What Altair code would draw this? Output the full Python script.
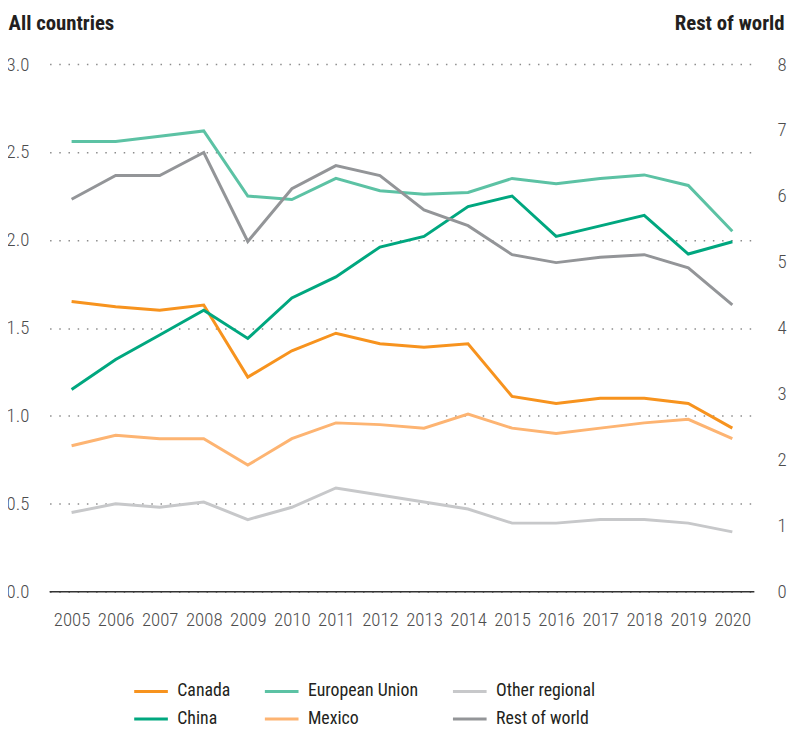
import altair as alt
import pandas as pd

years = list(range(2005, 2021))
canada = [1.65, 1.62, 1.60, 1.63, 1.22, 1.37, 1.47, 1.41, 1.39, 1.41, 1.11, 1.07, 1.10, 1.10, 1.07, 0.93]
china = [1.15, 1.32, 1.46, 1.60, 1.44, 1.67, 1.79, 1.96, 2.02, 2.19, 2.25, 2.02, 2.08, 2.14, 1.92, 1.99]
european_union = [2.56, 2.56, 2.59, 2.62, 2.25, 2.23, 2.35, 2.28, 2.26, 2.27, 2.35, 2.32, 2.35, 2.37, 2.31, 2.05]
mexico = [0.83, 0.89, 0.87, 0.87, 0.72, 0.87, 0.96, 0.95, 0.93, 1.01, 0.93, 0.90, 0.93, 0.96, 0.98, 0.87]
other_regional = [0.45, 0.50, 0.48, 0.51, 0.41, 0.48, 0.59, 0.55, 0.51, 0.47, 0.39, 0.39, 0.41, 0.41, 0.39, 0.34]
rest_of_world = [5.95, 6.31, 6.31, 6.66, 5.31, 6.11, 6.46, 6.31, 5.79, 5.55, 5.11, 4.99, 5.07, 5.11, 4.91, 4.35]

legend_order = ["Canada", "European Union", "Other regional", "China", "Mexico", "Rest of world"]
legend_colors = ["#F7931E", "#5CC2A4", "#C7C8CA", "#00A77F", "#FDB472", "#939598"]
left_ticks = [0, 0.5, 1.0, 1.5, 2.0, 2.5, 3.0]
right_ticks = [0, 1, 2, 3, 4, 5, 6, 7, 8]

FONT = "Liberation Sans Narrow, Arial Narrow, Roboto Condensed, Roboto, sans-serif"

rows = []
for name, vals in [("Canada", canada), ("China", china), ("European Union", european_union),
                   ("Mexico", mexico), ("Other regional", other_regional)]:
    for y, v in zip(years, vals):
        rows.append({"year": y, "series": name, "value": v})
left_df = pd.DataFrame(rows)
right_df = pd.DataFrame({"year": years, "series": "Rest of world", "value": rest_of_world})
zero_df = pd.DataFrame({"value": [0]})

x_enc = alt.X("year:O", scale=alt.Scale(type="point", padding=0.5),
              axis=alt.Axis(labelAngle=0, ticks=False, domain=False, title=None,
                            labelPadding=19, labelFont=FONT, labelFontSize=19,
                            labelFontWeight=300, labelColor="#4d4d4d"))

color_enc = alt.Color("series:N",
                      scale=alt.Scale(domain=legend_order, range=legend_colors),
                      legend=alt.Legend(title=None, orient="none", legendX=84, legendY=615,
                                        columns=3, direction="horizontal",
                                        symbolType="stroke", symbolSize=1156,
                                        symbolStrokeWidth=3, labelFont=FONT,
                                        labelFontSize=18, labelColor="#231f20",
                                        labelOffset=8, columnPadding=28, rowPadding=0))

left_scale = alt.Scale(domain=[0, 3], nice=False)
left_axis = alt.Axis(values=left_ticks, format=".1f", grid=True, gridDash=[1.5, 7.8],
                     gridColor="#8c8c8c", gridWidth=1.5, domain=False, ticks=False,
                     labelPadding=21, labelFont=FONT, labelFontSize=19, labelFontWeight=300,
                     labelColor="#4d4d4d", title="All countries", titleAngle=0,
                     titleAlign="left", titleBaseline="alphabetic", titleX=-42,
                     titleY=-35, titleFont=FONT, titleFontSize=21,
                     titleFontWeight="bold", titleColor="#231f20")

left_lines = alt.Chart(left_df).mark_line(strokeWidth=3).encode(
    x=x_enc,
    y=alt.Y("value:Q", scale=left_scale, axis=left_axis),
    color=color_enc,
)

zero_rule = alt.Chart(zero_df).mark_rule(color="#333333", strokeWidth=1.5).encode(
    y=alt.Y("value:Q", scale=left_scale, axis=left_axis)
)

left = alt.layer(zero_rule, left_lines)

right_line = alt.Chart(right_df).mark_line(strokeWidth=3).encode(
    x=x_enc,
    y=alt.Y("value:Q", scale=alt.Scale(domain=[0, 8], nice=False),
            axis=alt.Axis(orient="right", values=right_ticks, format="d", grid=False,
                          domain=False, ticks=False, labelPadding=23, labelFont=FONT,
                          labelFontSize=19, labelFontWeight=300, labelColor="#4d4d4d",
                          title="Rest of world", titleAngle=0, titleAlign="right",
                          titleBaseline="alphabetic", titleX=30, titleY=-35,
                          titleFont=FONT, titleFontSize=21, titleFontWeight="bold",
                          titleColor="#231f20")),
    color=color_enc,
)

chart = alt.layer(left, right_line).resolve_scale(y="independent").properties(
    width=712, height=533,
    autosize=alt.AutoSizeParams(type="none"),
    padding={"left": 42, "top": 53, "right": 35, "bottom": 133},
).configure_view(stroke=None)

chart.save("out.html", embed_options={"renderer": "svg", "actions": False})
